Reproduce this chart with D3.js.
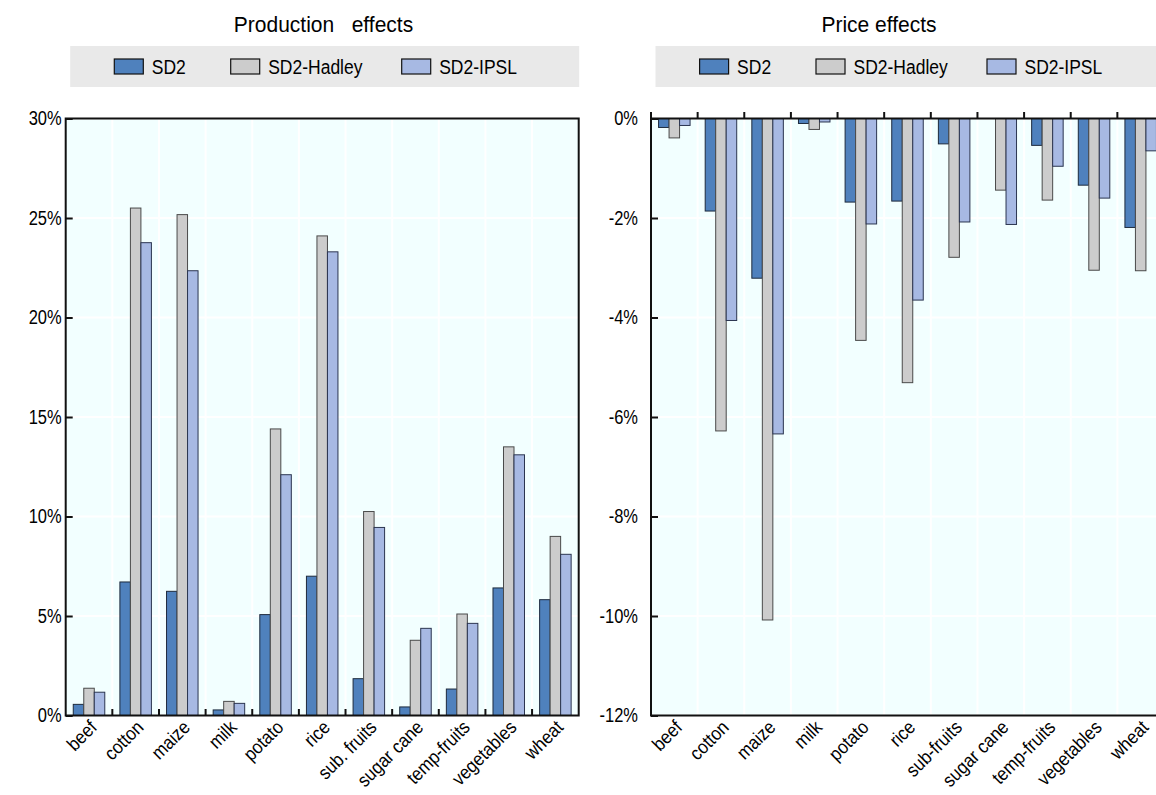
<!DOCTYPE html>
<html>
<head>
<meta charset="utf-8">
<script src="https://cdn.jsdelivr.net/npm/d3@7"></script>
<style>
  body { margin: 0; background: #fff; }
  svg { display: block; font-family: "Liberation Sans", Arial, sans-serif; }
</style>
</head>
<body>
<svg id="chart" width="1156" height="795"></svg>
<script>
var series = ["SD2", "SD2-Hadley", "SD2-IPSL"];
var colors = ["#4f81bd", "#cccccc", "#a7b9e3"];
var strokes = ["#1d2a3d", "#4a4a4a", "#2b3550"];

var prodCategories = ["beef", "cotton", "maize", "milk", "potato", "rice", "sub. fruits", "sugar cane", "temp-fruits", "vegetables", "wheat"];
var prodSD2    = [0.56, 6.71, 6.24, 0.28, 5.07, 7.0, 1.85, 0.43, 1.33, 6.41, 5.82];
var prodHadley = [1.37, 25.5, 25.17, 0.71, 14.4, 24.1, 10.25, 3.78, 5.1, 13.5, 9.0];
var prodIPSL   = [1.17, 23.76, 22.35, 0.61, 12.1, 23.3, 9.45, 4.38, 4.63, 13.1, 8.1];
var prodTicks  = [0, 5, 10, 15, 20, 25, 30];

var priceCategories = ["beef", "cotton", "maize", "milk", "potato", "rice", "sub-fruits", "sugar cane", "temp-fruits", "vegetables", "wheat"];
var priceSD2    = [-0.18, -1.86, -3.21, -0.1, -1.68, -1.66, -0.51, 0, -0.54, -1.34, -2.19];
var priceHadley = [-0.39, -6.28, -10.08, -0.22, -4.46, -5.31, -2.79, -1.44, -1.64, -3.05, -3.06];
var priceIPSL   = [-0.14, -4.06, -6.34, -0.07, -2.12, -3.65, -2.08, -2.13, -0.96, -1.6, -0.65];
var priceTicks  = [-12, -10, -8, -6, -4, -2, 0];

var svg = d3.select("#chart");

function drawPanel(p) {
  var g = svg.append("g");
  var top = 118.5, bottom = 715.5;

  var x = d3.scaleBand().domain(p.categories).range([p.left, p.left + 513]);
  var xs = d3.scaleBand().domain(series).range([0, x.bandwidth()]).paddingOuter(0.72);
  var y = d3.scaleLinear().domain(p.domain).range([bottom, top]);

  // title (glyphs in the original are a bit taller than Arial)
  g.append("text")
    .attr("transform", "translate(" + p.titleX + ",31.5) scale(1,1.08)")
    .attr("text-anchor", "middle")
    .style("font-size", "21px")
    .style("white-space", "pre")
    .text(p.title);

  // legend
  var lg = g.append("g");
  lg.append("rect")
    .attr("x", p.left + 4.5).attr("y", 46)
    .attr("width", 509).attr("height", 41)
    .attr("fill", "#e9e9e9");
  var legendX = [48.6, 165, 336];
  series.forEach(function (s, i) {
    lg.append("rect")
      .attr("x", p.left + legendX[i]).attr("y", 59)
      .attr("width", 29).attr("height", 15)
      .attr("fill", colors[i]).attr("stroke", "#111").attr("stroke-width", 1.2);
    lg.append("text")
      .attr("transform", "translate(" + (p.left + legendX[i] + 37.5) + ",74) scale(1,1.2)")
      .style("font-size", "17.5px")
      .text(s);
  });

  // plot background + grid
  g.append("rect")
    .attr("x", p.left).attr("y", top)
    .attr("width", 513).attr("height", bottom - top)
    .attr("fill", "#f2ffff");

  g.selectAll(".hgrid").data(p.ticks).enter().append("line")
    .attr("x1", p.left).attr("x2", p.left + 513)
    .attr("y1", function (d) { return y(d); }).attr("y2", function (d) { return y(d); })
    .attr("stroke", "#fff").attr("stroke-width", 2);

  g.selectAll(".vgrid").data(p.categories.slice(1)).enter().append("line")
    .attr("x1", function (d) { return x(d); }).attr("x2", function (d) { return x(d); })
    .attr("y1", top).attr("y2", bottom)
    .attr("stroke", "#fff").attr("stroke-width", 2);

  // bars
  var values = [p.sd2, p.hadley, p.ipsl];
  series.forEach(function (s, si) {
    g.selectAll(".bar" + si).data(values[si]).enter().append("rect")
      .attr("x", function (d, i) { return x(p.categories[i]) + xs(s); })
      .attr("y", function (d) { return y(Math.max(0, d)); })
      .attr("width", xs.bandwidth())
      .attr("height", function (d) { return Math.abs(y(d) - y(0)); })
      .attr("fill", colors[si])
      .attr("stroke", function (d) { return d === 0 ? "none" : strokes[si]; })
      .attr("stroke-width", 1);
  });

  // frame
  g.append("rect")
    .attr("x", p.left).attr("y", top)
    .attr("width", 513).attr("height", bottom - top)
    .attr("fill", "none").attr("stroke", "#111").attr("stroke-width", 2);

  // y axis
  var yAxis = d3.axisLeft(y).tickValues(p.ticks).tickSize(-7).tickPadding(p.pad)
    .tickFormat(function (d) { return d + "%"; });
  var ya = g.append("g").attr("transform", "translate(" + p.left + ",0)").call(yAxis);
  ya.select(".domain").remove();
  ya.selectAll("line").attr("stroke", "#111").attr("stroke-width", 2);
  ya.selectAll("text").style("font-size", "16.5px").attr("fill", "#000")
    .attr("transform", "scale(1,1.2)")
    .style("font-family", "Liberation Sans, Arial, sans-serif");

  // category ticks along the zero line
  g.selectAll(".ctick").data(p.categories.slice(1)).enter().append("line")
    .attr("x1", function (d) { return x(d); }).attr("x2", function (d) { return x(d); })
    .attr("y1", y(0)).attr("y2", y(0) - 6.5)
    .attr("stroke", "#111").attr("stroke-width", 2);
  if (p.domain[1] === 0) {
    g.append("line")
      .attr("x1", p.left).attr("x2", p.left).attr("y1", y(0)).attr("y2", y(0) - 6.5)
      .attr("stroke", "#111").attr("stroke-width", 2);
  }

  // category labels (slightly taller glyphs, like the original narrow face)
  g.selectAll(".clabel").data(p.categories).enter().append("text")
    .attr("transform", function (d) {
      return "translate(" + (x(d) + x.bandwidth() / 2 + 9) + "," + (bottom + 13) + ") rotate(-45) scale(1,1.12)";
    })
    .attr("text-anchor", "end")
    .style("font-size", "17px")
    .text(function (d) { return d; });
}

drawPanel({
  left: 65.7, title: "Production   effects", titleX: 323.5, pad: 4,
  categories: prodCategories, domain: [0, 30], ticks: prodTicks,
  sd2: prodSD2, hadley: prodHadley, ipsl: prodIPSL
});

drawPanel({
  left: 651, title: "Price effects", titleX: 879, pad: 13,
  categories: priceCategories, domain: [-12, 0], ticks: priceTicks,
  sd2: priceSD2, hadley: priceHadley, ipsl: priceIPSL
});
</script>
</body>
</html>
